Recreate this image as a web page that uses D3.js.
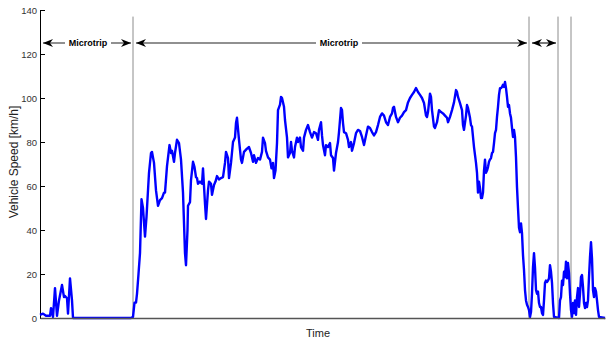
<!DOCTYPE html>
<html>
<head>
<meta charset="utf-8">
<script src="https://cdn.jsdelivr.net/npm/d3@7"></script>
<style>
  body { margin: 0; background: #fff; }
  svg { display: block; font-family: "Liberation Sans", Arial, sans-serif; }
</style>
</head>
<body>
<script>
// time [s] and vehicle speed [km/h]
var time = [0,6,12,20,22,26,30,34,38,44,48,50,54,56,60,64,66,182,186,189,192,194,197,200,203,206,210,213,218,222,224,228,232,236,240,244,248,250,254,259,262,264,268,270,274,278,282,286,290,292,295,296,300,302,306,309,312,314,316,320,324,326,330,332,336,338,342,344,348,351,354,358,362,366,370,372,376,378,382,386,390,392,394,398,402,404,408,414,418,422,426,428,432,436,440,444,446,450,452,456,460,463,466,468,471,474,476,480,482,484,488,490,494,496,500,502,504,508,510,514,516,520,522,526,528,532,536,540,544,548,552,556,558,562,564,566,570,572,576,580,582,586,588,592,596,598,600,602,604,606,608,612,616,618,622,624,628,632,636,640,644,648,652,656,660,664,668,672,676,680,684,688,692,696,700,704,706,708,712,716,720,724,728,732,736,740,744,748,752,756,760,764,768,772,774,776,780,782,784,788,790,794,798,802,806,810,814,816,820,824,828,832,834,836,840,844,846,848,852,854,856,860,862,864,866,868,872,874,876,878,880,882,884,886,888,890,892,894,896,898,900,902,904,906,908,910,912,914,916,918,920,922,924,926,928,930,932,934,936,938,940,942,944,946,948,950,952,954,956,958,960,962,964,966,968,970,972,974,976,978,980,982,984,986,988,990,992,994,996,998,1000,1002,1004,1006,1008,1010,1012,1014,1016,1018,1020,1022,1024,1026,1028,1038,1040,1042,1044,1046,1048,1050,1052,1054,1056,1058,1060,1062,1064,1066,1068,1070,1072,1074,1076,1078,1080,1082,1084,1086,1088,1090,1092,1094,1096,1098,1100,1102,1104,1106,1108,1110,1112,1114,1116,1118,1130];
var speed = [1.4,2,1,1,4.5,0.5,13.6,1,8,15,9.5,10,9,2,18,8,0,0,0.5,7,7,11,20,29.5,54,50,37,46,66,75,75.5,70.5,58,51,53.6,54.5,57,57,69,78.6,75,76,71,75,81,79.5,72,57,29.5,24,40,51,52.7,62.7,71,68.6,64,63.6,61,62,61,68,52,45,58,62,61,56,60.5,62,64.5,63,63.6,64,70.5,75.5,72.7,63.6,70.5,80,82,88.6,91,81,72,70.5,75.5,77,77.7,75,71,74,70.5,72.7,72,75.5,82,79.5,76,73,72,68,70.5,63.6,67,79.5,94.5,97,100.5,100,96,90,82,73,75,80,76,73,77.7,82,80,82,77.7,76,82,85.5,87.7,84.5,82,84.5,84,81,85.5,89,83,78.6,74,78.6,77.7,79.5,74,72.7,67,75,80,84.5,90,95.5,94.5,88.6,84.5,84,81,77.7,80,76,79.5,84,85.5,85,82.3,78.6,83,87,86.4,84.5,83,84.5,87.7,91.4,93,92,89,87.7,91.4,93,95.5,96,91.4,89,91,92,93.6,94.5,98,100,101.4,102.7,104.5,102.7,101.4,100,97.7,92,91.4,93.6,102,100.5,94.5,87,86.4,89,94.5,93.6,93,92,91,89,91.4,94.5,98,103.6,102.7,100.5,97.7,94.5,87.7,85.5,92,96.8,95.5,91,87.7,87,82.3,77.7,70.5,66,57,62,59,54.5,54.5,57,67,72,66,67,68.6,71,72,72.7,75,75.5,79.5,84,85.5,91.4,96,101.4,104.5,104.5,105,106,105,107.3,104.5,100.5,96,96.8,93,91,86.4,82.3,85.5,82.3,73,59.5,50,41,39,43,38.6,28.6,21.8,12.7,8,6,5,3.6,0.5,2.7,11,23,29.5,23,12.7,11,12,6.8,5,5,2.2,1.4,8,16,17,16.4,17,18,24,21,16,6.8,0.5,0,8,9.5,17,15,21,18.6,25.6,18,25,20.4,11,3.6,0.5,6.8,2.2,8,1.4,9.5,13.6,5,11,18.6,19.5,14,6.8,4.5,6.8,5,8,18.6,27.7,34.5,27,12.7,9.5,13.6,12,8,3.6,0.5,0];

// microtrip boundaries [s]
var bounds = [0, 186, 978, 1036, 1062];
var tripLabels = ["Microtrip", "Microtrip", ""];
var labelTimes = [96, 598, null];
var yTicks = [0, 20, 40, 60, 80, 100, 120, 140];

var width = 606, height = 342;

var svg = d3.select("body").append("svg")
    .attr("width", width)
    .attr("height", height);

var defs = svg.append("defs");
["end", "start"].forEach(function(k) {
  defs.append("marker")
    .attr("id", "arr-" + k)
    .attr("viewBox", "0 0 10 8")
    .attr("refX", 10).attr("refY", 4)
    .attr("markerUnits", "userSpaceOnUse")
    .attr("markerWidth", 10).attr("markerHeight", 8)
    .attr("orient", k == "end" ? "auto" : "auto-start-reverse")
    .append("path")
    .attr("d", "M0,0 L10,4 L0,8 L3,4 Z")
    .attr("fill", "#000");
});

var x = d3.scaleLinear()
    .domain([0, 1130])
    .range([40, 605]);

var y = d3.scaleLinear()
    .domain([0, 140])
    .range([318, 10]);

// axes
var y_axis = d3.axisLeft(y)
    .tickValues(yTicks)
    .tickSizeInner(-5)
    .tickSizeOuter(0)
    .tickPadding(3);

var gy = svg.append("g")
    .attr("class", "y-axis")
    .attr("transform", "translate(40,0)")
    .call(y_axis);
gy.select(".domain").attr("stroke", "#000");
gy.selectAll(".tick line").attr("stroke", "#000");
gy.selectAll(".tick text")
    .attr("fill", "#333")
    .style("font-size", "9.5px")
    .style("font-family", "'Liberation Sans', Arial, sans-serif");

// microtrip boundaries
svg.selectAll(".bound")
  .data(bounds.slice(1))
  .enter().append("line")
    .attr("class", "bound")
    .attr("x1", d => x(d)).attr("x2", d => x(d))
    .attr("y1", y(137)).attr("y2", y(0))
    .attr("stroke", "#8c8c8c")
    .attr("stroke-width", 1);

// speed line
var line = d3.line()
    .x((d, i) => x(time[i]))
    .y(d => y(d));

svg.append("path")
    .datum(speed)
    .attr("d", line)
    .attr("fill", "none")
    .attr("stroke", "#0000ff")
    .attr("stroke-width", 2.4)
    .attr("stroke-linejoin", "round");

var gx = svg.append("g")
    .attr("class", "x-axis")
    .attr("transform", "translate(0,318)")
    .call(d3.axisBottom(x).tickValues([]).tickSizeOuter(0));
gx.select(".domain").attr("stroke", "#555").attr("stroke-width", 1.5);

// microtrip arrows
var trips = tripLabels.map(function(l, i) {
  return { a: bounds[i], b: bounds[i + 1], label: l, lt: labelTimes[i] };
});

var ay = y(125);
var arrows = svg.selectAll(".trip")
  .data(trips)
  .enter().append("g")
    .attr("class", "trip");

arrows.append("line")
    .attr("x1", d => x(d.a) + 3)
    .attr("x2", d => x(d.b) - 2)
    .attr("y1", ay).attr("y2", ay)
    .attr("stroke", "#222")
    .attr("stroke-width", 1.2)
    .attr("marker-start", "url(#arr-start)")
    .attr("marker-end", "url(#arr-end)");

var lab = arrows.filter(d => d.label);
lab.append("rect")
    .attr("x", d => x(d.lt) - 23)
    .attr("y", ay - 5)
    .attr("width", 46)
    .attr("height", 10)
    .attr("fill", "#fff");
lab.append("text")
    .attr("x", d => x(d.lt))
    .attr("y", ay + 3.2)
    .attr("text-anchor", "middle")
    .style("font-size", "9px")
    .style("font-weight", "bold")
    .text(d => d.label);

// labels
svg.append("text")
    .attr("text-anchor", "middle")
    .attr("x", 318)
    .attr("y", 337)
    .style("font-size", "11px")
    .attr("fill", "#222")
    .text("Time");

svg.append("text")
    .attr("text-anchor", "middle")
    .attr("transform", "translate(18,162) rotate(-90)")
    .style("font-size", "12px")
    .attr("fill", "#222")
    .text("Vehicle Speed [km/h]");
</script>
</body>
</html>
